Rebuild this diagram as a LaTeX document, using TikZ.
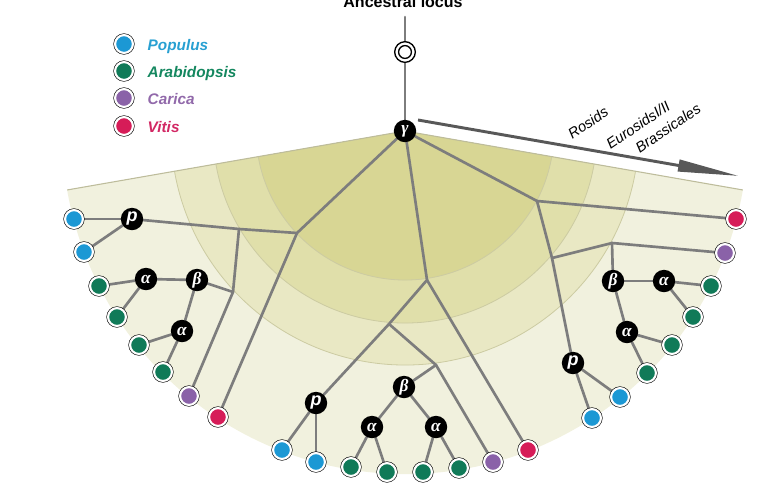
\documentclass[tikz,border=0pt]{standalone}
\usepackage{fontspec}
\setmainfont{Liberation Sans}
\newfontfamily\grkfont{Liberation Serif}
\usetikzlibrary{arrows.meta}
\definecolor{cpop}{RGB}{28,152,212}
\definecolor{cara}{RGB}{16,122,88}
\definecolor{ccar}{RGB}{138,98,168}
\definecolor{cvit}{RGB}{214,28,88}
\definecolor{tpop}{RGB}{40,160,210}
\definecolor{tara}{RGB}{20,135,95}
\definecolor{tcar}{RGB}{145,105,170}
\definecolor{tvit}{RGB}{210,40,100}
\definecolor{edgec}{RGB}{125,125,125}
\definecolor{arrc}{RGB}{88,88,88}
\definecolor{bandA}{RGB}{241,241,222}
\definecolor{bandB}{RGB}{233,232,196}
\definecolor{bandC}{RGB}{224,223,170}
\definecolor{bandD}{RGB}{216,214,148}
\definecolor{bandL}{RGB}{204,203,162}
\pgfdeclarelayer{bg}
\pgfdeclarelayer{edges}
\pgfsetlayers{bg,edges,main}
\begin{document}
\begin{tikzpicture}[x=0.75pt,y=-0.75pt,
  leaf/.style={circle, inner sep=0pt, minimum size=13.4pt, fill=#1, draw=white, line width=1.6pt, preaction={draw=black, line width=2.5pt}},
  dup/.style={circle, inner sep=0pt, minimum size=16.8pt, fill=black, text=white},
  pn/.style={dup, font=\fontsize{13.5}{13.5}\selectfont\bfseries\itshape},
  gk/.style={dup, font=\grkfont\fontsize{13}{13}\selectfont\bfseries\itshape},
  br/.style={draw=edgec, line width=2pt, line cap=round, line join=round},
  legt/.style={anchor=base west, font=\fontsize{11.5}{12}\selectfont\bfseries\itshape},
  clade/.style={font=\fontsize{11}{12}\selectfont\itshape, rotate=34},
  bandline/.style={draw=bandL, line width=0.6pt},
]
\useasboundingbox (0,0) rectangle (766,487);
\coordinate (g0) at (405,131);

% fan background
\begin{pgfonlayer}{bg}
\fill[bandA] (g0) -- ++(9.9:343) arc[start angle=9.9,end angle=170.1,radius=343] -- cycle;
\fill[bandB] (g0) -- ++(9.9:234) arc[start angle=9.9,end angle=170.1,radius=234] -- cycle;
\fill[bandC] (g0) -- ++(9.9:192) arc[start angle=9.9,end angle=170.1,radius=192] -- cycle;
\fill[bandD] (g0) -- ++(9.9:149) arc[start angle=9.9,end angle=170.1,radius=149] -- cycle;
\draw[bandline] (g0) ++(9.9:234) arc[start angle=9.9,end angle=170.1,radius=234];
\draw[bandline] (g0) ++(9.9:192) arc[start angle=9.9,end angle=170.1,radius=192];
\draw[bandline] (g0) ++(9.9:149) arc[start angle=9.9,end angle=170.1,radius=149];
\draw[draw=bandL!80!gray, line width=0.8pt] (g0) ++(9.9:343) -- (g0) -- ++(170.1:343);
\end{pgfonlayer}

% title and legend
\node[anchor=base, font=\fontsize{12}{14}\selectfont\bfseries] (title) at (403,7.3) {Ancestral locus};
\node[leaf=cpop] (lg1) at (124,44) {};
\node[leaf=cara] (lg2) at (124,71) {};
\node[leaf=ccar] (lg3) at (124,98) {};
\node[leaf=cvit] (lg4) at (124,126) {};
\node[legt, text=tpop] (lt1) at (143,50) {Populus};
\node[legt, text=tara] (lt2) at (143,77) {Arabidopsis};
\node[legt, text=tcar] (lt3) at (143,104) {Carica};
\node[legt, text=tvit] (lt4) at (143,132) {Vitis};

% clade labels and arrow
\node[clade] (r1) at (588,123) {Rosids};
\node[clade] (r2) at (638,125) {EurosidsI/II};
\node[clade] (r3) at (668,128) {Brassicales};
\coordinate (as) at (418,120);
\coordinate (ae) at (739,176);
\draw[draw=arrc, line width=2.2pt, -{Triangle[length=46pt,width=8.6pt]}] (as) -- (ae);

% root
\coordinate (top) at (405,17);
\node[circle, draw=black, line width=1pt, fill=white, minimum size=15.5pt, inner sep=0pt,
  path picture={\draw[line width=1pt] (path picture bounding box.center) circle (4.8pt);}] (anc) at (405,52) {};
\node[gk] (G) at (g0) {γ};

% left clade
\coordinate (JL1) at (297,233);
\coordinate (JL2) at (239,229);
\coordinate (JL3) at (233,292);
\node[pn] (pL) at (132,219) {p};
\node[leaf=cpop] (bL1) at (74,219) {};
\node[leaf=cpop] (bL2) at (84,252) {};
\node[gk] (aL1) at (146,279) {α};
\node[gk] (betaL) at (197,280) {β};
\node[gk] (aL2) at (182,331) {α};
\node[leaf=cara] (gL1) at (99,286) {};
\node[leaf=cara] (gL2) at (117,317) {};
\node[leaf=cara] (gL3) at (139,345) {};
\node[leaf=cara] (gL4) at (163,372) {};
\node[leaf=ccar] (cL) at (189,396) {};
\node[leaf=cvit] (vL) at (218,417) {};

% centre clade
\coordinate (JC1) at (427,280);
\coordinate (JC2) at (389,324);
\coordinate (JC3) at (436,365);
\node[pn] (pC) at (316,403) {p};
\node[leaf=cpop] (bC1) at (282,450) {};
\node[leaf=cpop] (bC2) at (316,462) {};
\node[gk] (betaC) at (404,387) {β};
\node[gk] (aC1) at (372,427) {α};
\node[gk] (aC2) at (436,427) {α};
\node[leaf=cara] (gC1) at (351,467) {};
\node[leaf=cara] (gC2) at (387,472) {};
\node[leaf=cara] (gC3) at (423,472) {};
\node[leaf=cara] (gC4) at (459,468) {};
\node[leaf=ccar] (cC) at (493,462) {};
\node[leaf=cvit] (vC) at (528,450) {};

% right clade
\coordinate (JR1) at (537,201);
\coordinate (JR2) at (552,258);
\coordinate (JR3) at (612,243);
\node[leaf=cvit] (vR) at (736,219) {};
\node[leaf=ccar] (cR) at (725,253) {};
\node[pn] (pR) at (573,363) {p};
\node[leaf=cpop] (bR1) at (620,397) {};
\node[leaf=cpop] (bR2) at (592,418) {};
\node[gk] (betaR) at (613,281) {β};
\node[gk] (aR1) at (664,281) {α};
\node[gk] (aR2) at (627,332) {α};
\node[leaf=cara] (gR1) at (711,286) {};
\node[leaf=cara] (gR2) at (693,317) {};
\node[leaf=cara] (gR3) at (672,345) {};
\node[leaf=cara] (gR4) at (647,373) {};

\begin{pgfonlayer}{edges}
\draw[br] (top) -- (anc);
\draw[br] (anc) -- (G);
% left
\draw[br] (G) -- (JL1) -- (JL2) -- (pL);
\draw[br] (JL2) -- (JL3) -- (betaL);
\draw[br] (JL3) -- (cL);
\draw[br] (JL1) -- (vL);
\draw[br] (pL) -- (bL1);
\draw[br] (pL) -- (bL2);
\draw[br] (betaL) -- (aL1);
\draw[br] (betaL) -- (aL2);
\draw[br] (aL1) -- (gL1);
\draw[br] (aL1) -- (gL2);
\draw[br] (aL2) -- (gL3);
\draw[br] (aL2) -- (gL4);
% centre
\draw[br] (G) -- (JC1) -- (JC2) -- (pC);
\draw[br] (JC2) -- (JC3) -- (betaC);
\draw[br] (JC3) -- (cC);
\draw[br] (JC1) -- (vC);
\draw[br] (pC) -- (bC1);
\draw[br] (pC) -- (bC2);
\draw[br] (betaC) -- (aC1);
\draw[br] (betaC) -- (aC2);
\draw[br] (aC1) -- (gC1);
\draw[br] (aC1) -- (gC2);
\draw[br] (aC2) -- (gC3);
\draw[br] (aC2) -- (gC4);
% right
\draw[br] (G) -- (JR1) -- (vR);
\draw[br] (JR1) -- (JR2) -- (pR);
\draw[br] (JR2) -- (JR3) -- (cR);
\draw[br] (JR3) -- (betaR);
\draw[br] (betaR) -- (aR1);
\draw[br] (betaR) -- (aR2);
\draw[br] (aR1) -- (gR1);
\draw[br] (aR1) -- (gR2);
\draw[br] (aR2) -- (gR3);
\draw[br] (aR2) -- (gR4);
\draw[br] (pR) -- (bR1);
\draw[br] (pR) -- (bR2);
\end{pgfonlayer}
\end{tikzpicture}
\end{document}
